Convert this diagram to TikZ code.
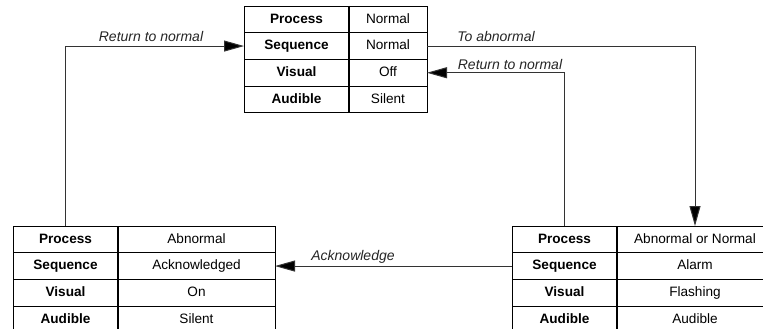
\documentclass[tikz,border=0pt]{standalone}
\usepackage{fontspec}
\setmainfont{Liberation Sans}
\usetikzlibrary{arrows.meta}
\tikzset{
  cell/.style={draw=black, line width=0.9pt, minimum height=26.7pt, inner sep=0pt, outer sep=0pt,
    text height=10pt, text depth=2.5pt,
    anchor=north west, font=\fontsize{13.6}{15}\selectfont},
  keycell/.style={cell, font=\fontsize{13.6}{15}\selectfont\bfseries},
  conn/.style={draw=black!80, line width=1pt, -{Triangle[length=20pt,width=11pt,fill=black]}},
  lbl/.style={font=\fontsize{14}{15}\selectfont\itshape, inner sep=0pt, text=black!85},
}
\newcommand\statetable[9]{%
  \node[keycell, minimum width=#4pt] (#1-p) at (#2pt,-#3pt) {Process};
  \node[cell, minimum width=#5pt] (#1-pv) at (#1-p.north east) {#6};
  \node[keycell, minimum width=#4pt] (#1-s) at (#1-p.south west) {Sequence};
  \node[cell, minimum width=#5pt] (#1-sv) at (#1-s.north east) {#7};
  \node[keycell, minimum width=#4pt] (#1-v) at (#1-s.south west) {Visual};
  \node[cell, minimum width=#5pt] (#1-vv) at (#1-v.north east) {#8};
  \node[keycell, minimum width=#4pt] (#1-a) at (#1-v.south west) {Audible};
  \node[cell, minimum width=#5pt] (#1-av) at (#1-a.north east) {#9};
  \draw[line width=1.6pt] (#1-p.north east) -- (#1-a.south east);
}
\begin{document}
\begin{tikzpicture}
  \clip (0,0) rectangle (763pt,-329pt);
  \fill[white] (0,0) rectangle (763pt,-329pt);
  \statetable{top}{244}{6}{105}{78}{Normal}{Normal}{Off}{Silent}
  \statetable{bl}{13}{226}{105}{157}{Abnormal}{Acknowledged}{On}{Silent}
  \statetable{br}{512}{226}{105}{156}{Abnormal or Normal}{Alarm}{Flashing}{Audible}
  \draw[conn] (bl-p.north) |- (top-s.west);
  \draw[conn] (top-sv.east) -| (br-pv.north);
  \draw[conn] (br-p.north) |- (top-vv.east);
  \draw[conn] (br-s.west) -- (bl-sv.east);
  \node[lbl] (l1) at (151pt,-36pt) {Return to normal};
  \node[lbl] (l2) at (496pt,-36pt) {To abnormal};
  \node[lbl] (l3) at (510pt,-64pt) {Return to normal};
  \node[lbl] (l4) at (353pt,-257pt) {Acknowledge};
\end{tikzpicture}
\end{document}
